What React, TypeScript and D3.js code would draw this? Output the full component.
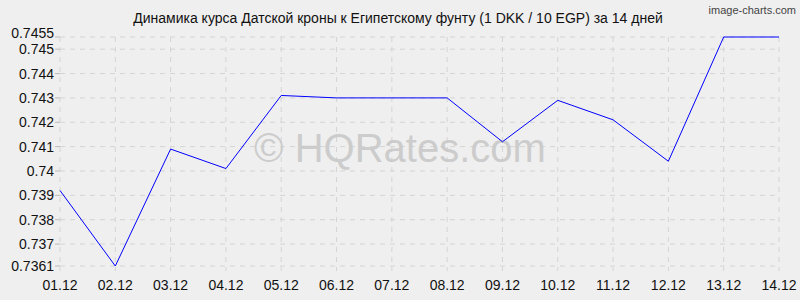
import React from "react";
import * as d3 from "d3";

const dates = ["01.12","02.12","03.12","04.12","05.12","06.12","07.12","08.12","09.12","10.12","11.12","12.12","13.12","14.12"];
const rates = [0.7392,0.7361,0.7409,0.7401,0.7431,0.7430,0.7430,0.7430,0.7412,0.7429,0.7421,0.7404,0.7455,0.7455];
const yTicks = [0.7361,0.737,0.738,0.739,0.74,0.741,0.742,0.743,0.744,0.745,0.7455];
const yTickLabels = ["0.7361","0.737","0.738","0.739","0.74","0.741","0.742","0.743","0.744","0.745","0.7455"];
const title = "Динамика курса Датской кроны к Египетскому фунту (1 DKK / 10 EGP) за 14 дней";

export default function App() {
  const W = 800, H = 300;
  const left = 60, right = 779, top = 37, bottom = 266;
  const x = d3.scalePoint<string>().domain(dates).range([left, right]);
  const y = d3.scaleLinear().domain([0.7361, 0.7455]).range([bottom, top]);
  const line = d3.line<number>().x((_, i) => x(dates[i])!).y(d => y(d));
  const font = "'Liberation Sans', Arial, sans-serif";
  return (
    <svg width={W} height={H} style={{ position: "absolute", left: 0, top: 0, background: "#efefef" }}>
      <rect x={0} y={0} width={W} height={H} fill="#efefef" />
      <text x={398} y={23} textAnchor="middle" fontFamily={font} fontSize={14} fill="#111">{title}</text>
      <text x={796} y={14} textAnchor="end" fontFamily={font} fontSize={11} fill="#444">image-charts.com</text>
      {yTicks.map((t, i) => (
        <g key={"y" + i}>
          <line x1={left} x2={right} y1={y(t)} y2={y(t)} stroke="#d4d4d4" strokeDasharray="5,5" />
          <line x1={left - 5} x2={left} y1={y(t)} y2={y(t)} stroke="#bbb" />
          <text x={left - 6} y={y(t) + (t === 0.7455 ? 1 : 5)} textAnchor="end" fontFamily={font} fontSize={14} fill="#111">{yTickLabels[i]}</text>
        </g>
      ))}
      {dates.map((d, i) => (
        <g key={"x" + i}>
          <line x1={x(d)} x2={x(d)} y1={top} y2={bottom + 5} stroke="#d4d4d4" strokeDasharray="5,5" />
          <text x={x(d)} y={bottom + 24} textAnchor="middle" fontFamily={font} fontSize={14} fill="#111">{d}</text>
        </g>
      ))}
      <text x={400} y={162} textAnchor="middle" fontFamily={font} fontSize={40} fill="#c8c8c8" fillOpacity={0.9}>© HQRates.com</text>
      <path d={line(rates)!} fill="none" stroke="#0000ff" strokeWidth={1} />
    </svg>
  );
}
